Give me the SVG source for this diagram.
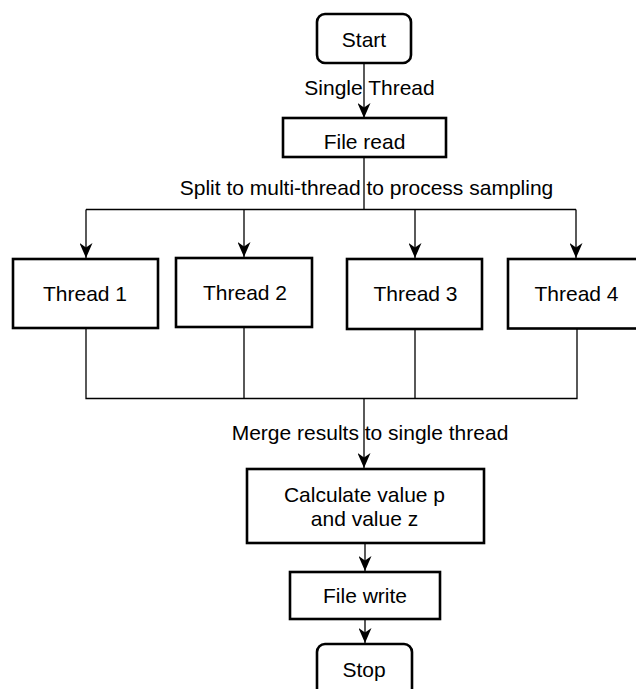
<svg xmlns="http://www.w3.org/2000/svg" width="636" height="689" viewBox="0 0 636 689">
<style>
.box{fill:#fff;stroke:#000;stroke-width:2.6}
.ln{fill:none;stroke:#000;stroke-width:1.3}
.t{font-family:"Liberation Sans",Arial,sans-serif;font-size:21px;fill:#000;text-anchor:middle}
</style>
<defs>
<marker id="arr" markerUnits="userSpaceOnUse" viewBox="0 0 15 13" refX="15" refY="6.5" markerWidth="15" markerHeight="13" orient="auto">
<path d="M0,0 L15,6.5 L0,13 L4.5,6.5 Z" fill="#000"/>
</marker>
</defs>
<rect width="636" height="689" fill="#fff"/>
<g id="connectors">
<path class="ln" d="M364,63 V118" marker-end="url(#arr)"/>
<path class="ln" d="M364,157 V209.5 M86,209.5 H576"/>
<path class="ln" d="M86,209.5 V258" marker-end="url(#arr)"/>
<path class="ln" d="M244,209.5 V257" marker-end="url(#arr)"/>
<path class="ln" d="M415,209.5 V258" marker-end="url(#arr)"/>
<path class="ln" d="M576,209.5 V258" marker-end="url(#arr)"/>
<path class="ln" d="M86,328 V398.5 H577 V328 M244,327 V398.5 M415,329 V398.5"/>
<path class="ln" d="M364,398.5 V468" marker-end="url(#arr)"/>
<path class="ln" d="M365,543 V571" marker-end="url(#arr)"/>
<path class="ln" d="M365,619 V643" marker-end="url(#arr)"/>
<text class="t" x="369.5" y="95">Single Thread</text>
<text class="t" x="366.5" y="195">Split to multi-thread to process sampling</text>
<text class="t" x="370" y="440">Merge results to single thread</text>
</g>
<g id="start">
<rect class="box" x="317" y="14" width="94" height="49" rx="8"/>
<text class="t" x="364" y="46.5">Start</text>
</g>
<g id="fileread">
<rect class="box" x="283" y="118" width="163" height="39"/>
<text class="t" x="364.5" y="149">File read</text>
</g>
<g id="thread1">
<rect class="box" x="13" y="259" width="145" height="69"/>
<text class="t" x="85" y="300.5">Thread 1</text>
</g>
<g id="thread2">
<rect class="box" x="176" y="258" width="136" height="69"/>
<text class="t" x="245" y="299.5">Thread 2</text>
</g>
<g id="thread3">
<rect class="box" x="347" y="259" width="135" height="70"/>
<text class="t" x="415.5" y="300.5">Thread 3</text>
</g>
<g id="thread4">
<rect class="box" x="508" y="259" width="130" height="69.5"/>
<text class="t" x="576.5" y="301">Thread 4</text>
</g>
<g id="calculate">
<rect class="box" x="247" y="469" width="237" height="74"/>
<text class="t" x="364.5" y="501.5">Calculate value p</text>
<text class="t" x="364.5" y="525.5">and value z</text>
</g>
<g id="filewrite">
<rect class="box" x="290" y="572" width="150" height="47"/>
<text class="t" x="365" y="602.5">File write</text>
</g>
<g id="stop">
<rect class="box" x="317" y="644" width="95" height="55" rx="8"/>
<text class="t" x="364" y="676.5">Stop</text>
</g>
</svg>
